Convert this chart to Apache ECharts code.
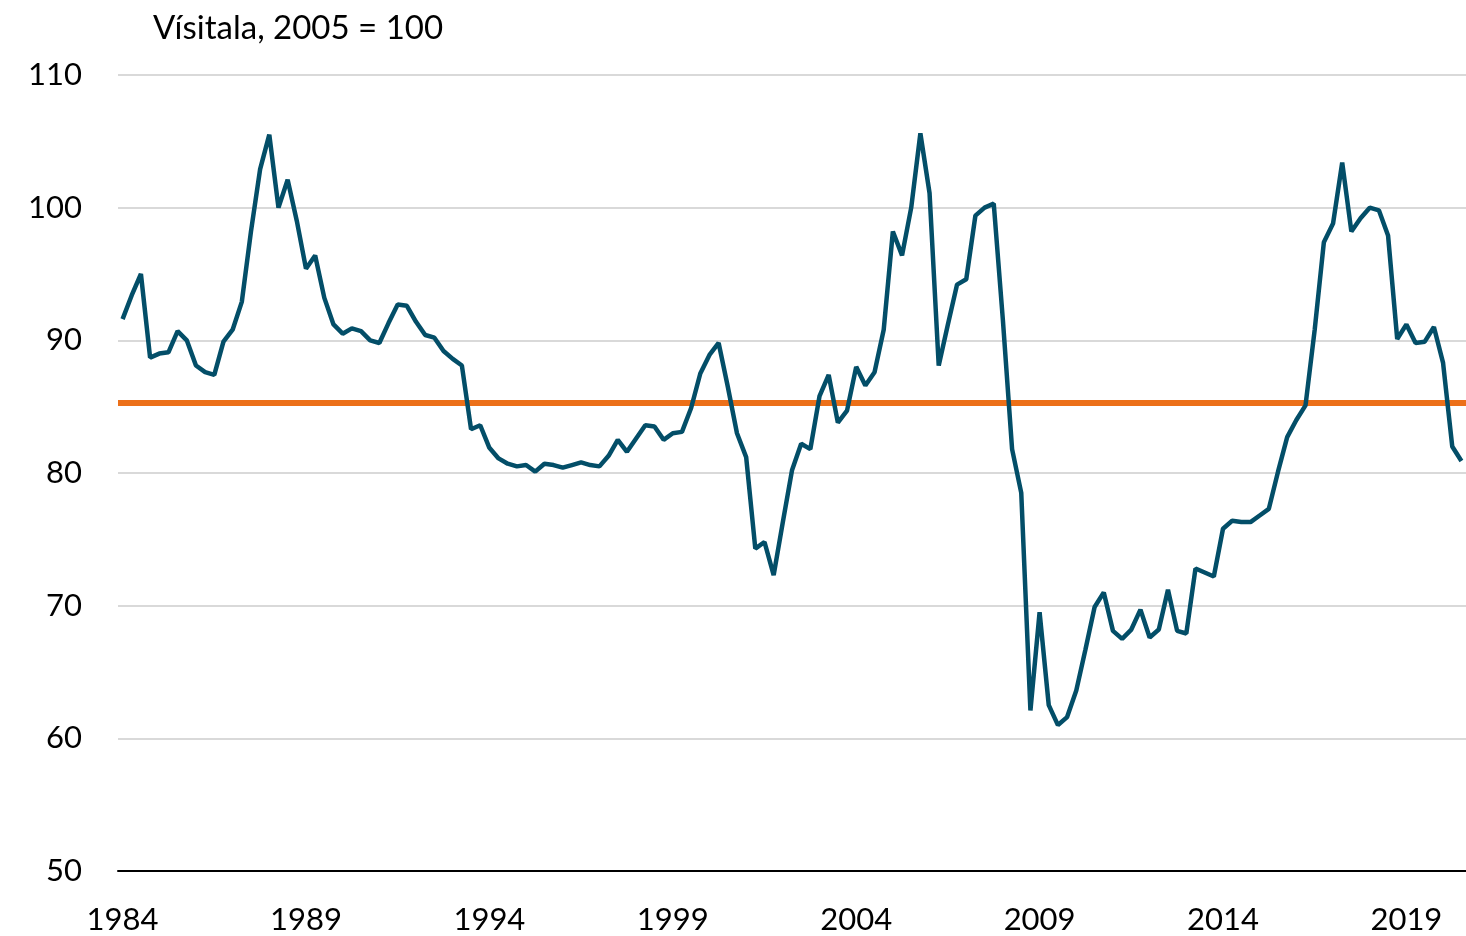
<!DOCTYPE html>
<html>
<head>
<meta charset="utf-8">
<title>Vísitala</title>
<script src="https://cdn.jsdelivr.net/npm/echarts@6/dist/echarts.min.js"></script>
<style>
  html, body { margin: 0; padding: 0; background: #fff; }
  #chart { width: 1466px; height: 936px; }
</style>
</head>
<body>
<div id="chart"></div>
<script>
// quarterly index, 1984Q1 - 2020Q3
var startYear = 1984;
var quarterNames = ['Q1', 'Q2', 'Q3', 'Q4'];

var indexValues = [
  91.6, 93.4, 95.0, 88.7,
  89.0, 89.1, 90.7, 90.0,
  88.1, 87.6, 87.4, 89.9,
  90.8, 92.9, 98.2, 102.9,
  105.5, 100.0, 102.1, 99.0,
  95.4, 96.4, 93.2, 91.2,
  90.5, 90.9, 90.7, 90.0,
  89.8, 91.3, 92.7, 92.6,
  91.4, 90.4, 90.2, 89.2,
  88.6, 88.1, 83.3, 83.6,
  81.9, 81.1, 80.7, 80.5,
  80.6, 80.1, 80.7, 80.6,
  80.4, 80.6, 80.8, 80.6,
  80.5, 81.3, 82.5, 81.6,
  82.6, 83.6, 83.5, 82.5,
  83.0, 83.1, 84.9, 87.5,
  88.9, 89.8, 86.5, 83.0,
  81.2, 74.3, 74.8, 72.3,
  76.3, 80.2, 82.2, 81.8,
  85.8, 87.4, 83.8, 84.7,
  88.0, 86.6, 87.6, 90.8,
  98.2, 96.4, 100.0, 105.6,
  101.1, 88.1, 91.2, 94.2,
  94.6, 99.4, 100.0, 100.3,
  91.5, 81.8, 78.5, 62.1,
  69.5, 62.5, 61.0, 61.6,
  63.6, 66.7, 69.9, 71.0,
  68.1, 67.5, 68.2, 69.7,
  67.6, 68.2, 71.2, 68.1,
  67.9, 72.8, 72.5, 72.2,
  75.8, 76.4, 76.3, 76.3,
  76.8, 77.3, 80.1, 82.7,
  84.0, 85.1, 90.8, 97.4,
  98.8, 103.4, 98.2, 99.2,
  100.0, 99.8, 97.9, 90.1,
  91.2, 89.8, 89.9, 91.0,
  88.3, 82.0, 80.9
];

// long-run average level (orange line)
var averageLevel = 85.3;

var yTicks = [50, 60, 70, 80, 90, 100, 110];

var categories = [];
for (var i = 0; i < indexValues.length; i++) {
  categories.push((startYear + Math.floor(i / 4)) + '-' + quarterNames[i % 4]);
}

var chart = echarts.init(document.getElementById('chart'));
chart.setOption({
  animation: false,
  textStyle: { fontFamily: 'Lato' },
  title: {
    text: 'Vísitala, 2005 = 100',
    left: 148,
    top: 7,
    textStyle: { fontFamily: 'Lato', fontSize: 33, fontWeight: 'normal', color: '#000' }
  },
  grid: {
    left: 118,
    right: 0,
    top: 75,
    bottom: 65
  },
  xAxis: {
    type: 'category',
    data: categories,
    boundaryGap: true,
    axisLine: { lineStyle: { color: '#000', width: 2 } },
    axisTick: { show: false },
    axisLabel: {
      interval: 19,
      margin: 33,
      fontSize: 31,
      color: '#000',
      formatter: function (v) { return v.substring(0, 4); }
    }
  },
  yAxis: {
    type: 'value',
    min: yTicks[0],
    max: yTicks[yTicks.length - 1],
    interval: 10,
    axisLine: { show: false },
    axisTick: { show: false },
    axisLabel: { fontSize: 31, color: '#000', margin: 36 },
    splitLine: { lineStyle: { color: '#d9d9d9', width: 2 } }
  },
  series: [
    {
      name: 'Vísitala',
      type: 'line',
      data: indexValues,
      symbol: 'none',
      lineStyle: { color: '#034e68', width: 4.5 },
      z: 3,
      markLine: {
        silent: true,
        symbol: 'none',
        label: { show: false },
        lineStyle: { color: '#ec7019', width: 6, type: 'solid' },
        data: [{ yAxis: averageLevel }],
        z: 2
      }
    }
  ]
});
</script>
</body>
</html>
